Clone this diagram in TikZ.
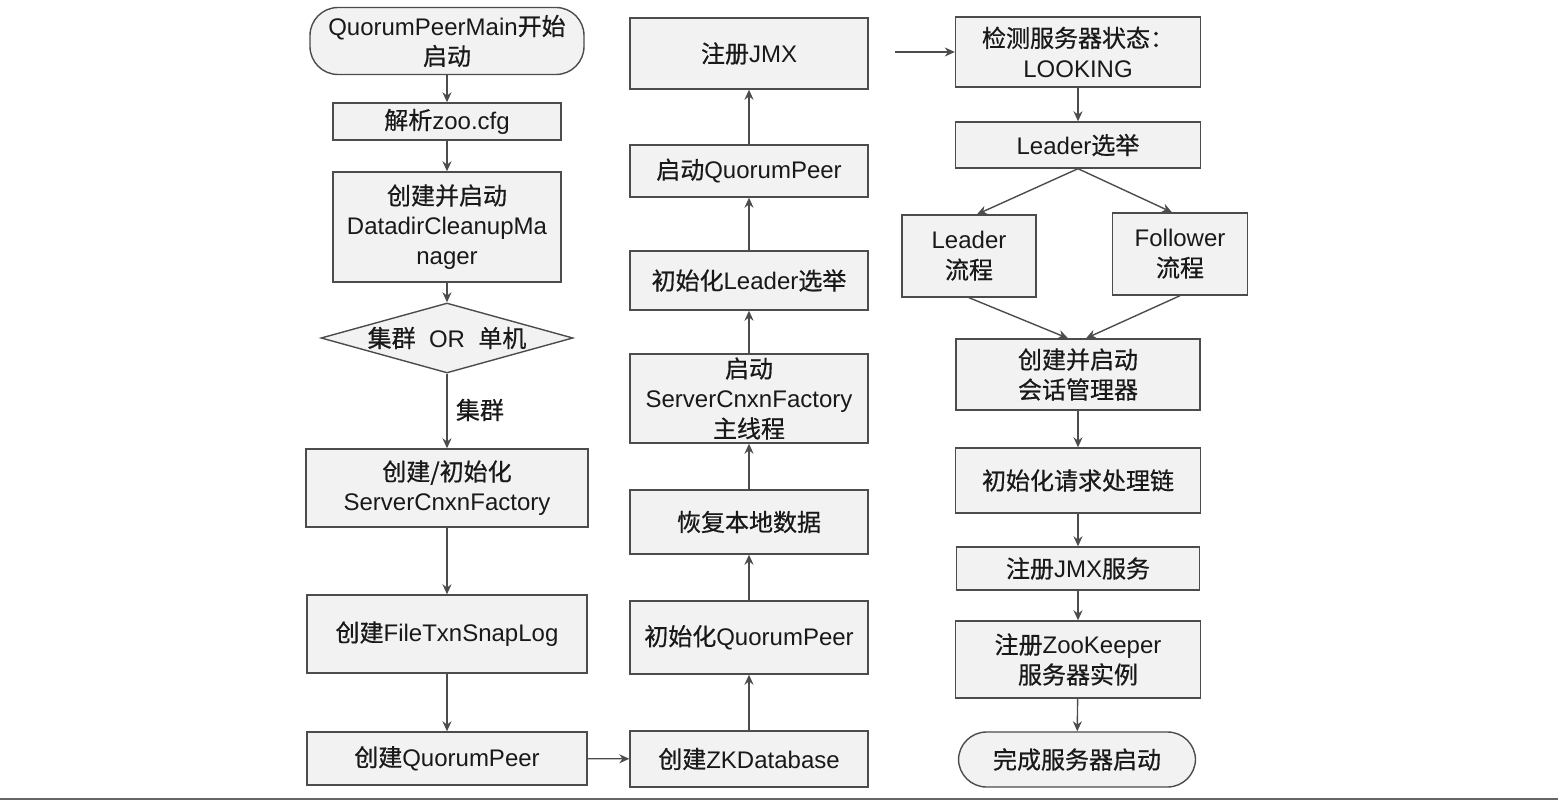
\documentclass[tikz,border=0pt]{standalone}
\usepackage{fontspec}
\setmainfont{Liberation Sans}
\newfontfamily\cjk[FakeBold=0.6]{Noto Sans CJK SC}
\newcommand{\zh}[1]{{\cjk #1}}
\usetikzlibrary{shapes.geometric,arrows.meta}

\begin{document}
\begin{tikzpicture}[x=0.5pt,y=-0.5pt,
        box/.style={draw=black!70, fill=black!5, line width=0.7pt, align=center, inner sep=2pt,
            font=\fontsize{12}{15}\selectfont, text=black!90},
        term/.style={box, rounded corners=14pt},
        choice/.style={box, diamond, aspect=3.6, inner sep=0pt},
        arr/.style={draw=black!70, line width=0.7pt, -{Stealth[length=5pt,width=4.5pt]}}]
            \useasboundingbox (0,0) rectangle (1558,807);
            \draw[black!60, line width=1pt] (0,799) -- (1558,799);

            \node (start) at (447,41)[term, minimum width=137pt, minimum height=33.5pt]{QuorumPeerMain\zh{开始}\\\zh{启动}};
            \node (zoo) at (447,121.5)[box, minimum width=114pt, minimum height=18.5pt]{\zh{解析}zoo.cfg};
            \node (dcm) at (447,227)[box, minimum width=114pt, minimum height=55pt]{\zh{创建并启动}\\DatadirCleanupMa\\nager};
            \node (mode) at (447,338)[choice, minimum width=126pt, minimum height=35pt]{\zh{集群}\ \ OR\ \ \zh{单机}};
            \node (yes) at (480,410)[font=\fontsize{12}{15}\selectfont, text=black!90]{\zh{集群}};
            \node (scf) at (447,488)[box, minimum width=141pt, minimum height=39pt]{\zh{创建/初始化}\\ServerCnxnFactory};
            \node (ftsl) at (447,634)[box, minimum width=140pt, minimum height=39pt]{\zh{创建}FileTxnSnapLog};
            \node (cqp) at (447,758.5)[box, minimum width=140pt, minimum height=26.5pt]{\zh{创建}QuorumPeer};

            \node (jmx) at (749,53.5)[box, minimum width=119pt, minimum height=35.5pt]{\zh{注册}JMX};
            \node (sqp) at (749,171)[box, minimum width=119pt, minimum height=26pt]{\zh{启动}QuorumPeer};
            \node (ile) at (749,280.5)[box, minimum width=119pt, minimum height=29.5pt]{\zh{初始化}Leader\zh{选举}};
            \node (sscf) at (749,398.5)[box, inner ysep=0pt, minimum width=119pt, minimum height=44.5pt]{\zh{启动}\\ServerCnxnFactory\\\zh{主线程}};
            \node (rld) at (749,522)[box, minimum width=119pt, minimum height=32pt]{\zh{恢复本地数据}};
            \node (iqp) at (749,637.5)[box, minimum width=119pt, minimum height=36.5pt]{\zh{初始化}QuorumPeer};
            \node (zkdb) at (749,759)[box, minimum width=119pt, minimum height=28pt]{\zh{创建}ZKDatabase};

            \coordinate (jmxout) at (895,52);
            \node (det) at (1078,52)[box, minimum width=122.5pt, minimum height=35pt]{\zh{检测服务器状态：}\\LOOKING};
            \node (lel) at (1078,145)[box, minimum width=122.5pt, minimum height=23pt]{Leader\zh{选举}};
            \node (lf) at (969,256)[box, minimum width=67pt, minimum height=41pt]{Leader\\\zh{流程}};
            \node (ff) at (1180,254)[box, minimum width=67.5pt, minimum height=41pt]{Follower\\\zh{流程}};
            \node (sm) at (1078,374.5)[box, minimum width=122pt, minimum height=35.5pt]{\zh{创建并启动}\\\zh{会话管理器}};
            \node (rpc) at (1078,480.5)[box, minimum width=122.5pt, minimum height=32.5pt]{\zh{初始化请求处理链}};
            \node (jmxs) at (1078,568.5)[box, minimum width=121.5pt, minimum height=21.5pt]{\zh{注册}JMX\zh{服务}};
            \node (zks) at (1078,659.5)[box, minimum width=122.5pt, minimum height=38.5pt]{\zh{注册}ZooKeeper\\\zh{服务器实例}};
            \node (done) at (1077,759.5)[term, minimum width=118.5pt, minimum height=27.5pt]{\zh{完成服务器启动}};

            \foreach \a/\b in {start/zoo,zoo/dcm,dcm/mode,mode/scf,scf/ftsl,ftsl/cqp,cqp/zkdb,
                zkdb/iqp,iqp/rld,rld/sscf,sscf/ile,ile/sqp,sqp/jmx,jmxout/det,det/lel,
                sm/rpc,rpc/jmxs,jmxs/zks,zks/done}{
                \draw[arr] (\a) -- (\b);
            }
            \draw[arr] (lel.south) -- ([xshift=4pt]lf.north);
            \draw[arr] (lel.south) -- ([xshift=-4pt]ff.north);
            \draw[arr] (lf.south) -- ([xshift=-5pt]sm.north);
            \draw[arr] (ff.south) -- ([xshift=4pt]sm.north);
        \end{tikzpicture}
\end{document}
